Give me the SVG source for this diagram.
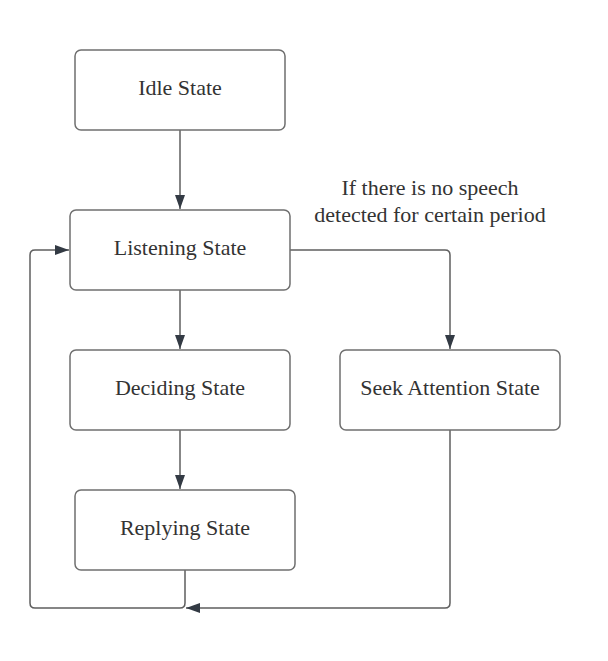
<svg xmlns="http://www.w3.org/2000/svg" width="608" height="661" viewBox="0 0 608 661">
<style>
.box{fill:#fff;stroke:#6f6f6f;stroke-width:1.5}
.lbl{font-family:"Liberation Serif",serif;font-size:22px;fill:#333;text-anchor:middle;dominant-baseline:central}
.edge{fill:none;stroke:#5f5f5f;stroke-width:1.5}
</style>
<defs>
<marker id="arr" viewBox="0 0 14 10" refX="14" refY="5" markerWidth="14" markerHeight="10" markerUnits="userSpaceOnUse" orient="auto">
<path d="M0,0 L14,5 L0,10 Z" fill="#333a44"/>
</marker>
</defs>
<rect width="608" height="661" fill="#fff"/>
<g id="connectors">
<path class="edge" d="M180,130 V209" marker-end="url(#arr)"/>
<path class="edge" d="M180,290 V349" marker-end="url(#arr)"/>
<path class="edge" d="M180,430 V489" marker-end="url(#arr)"/>
<path class="edge" d="M290,250 H445 Q450,250 450,255 V349" marker-end="url(#arr)"/>
<path class="edge" d="M450,430 V603 Q450,608 445,608 H186" marker-end="url(#arr)"/>
<path class="edge" d="M185,570 V603 Q185,608 180,608 H35 Q30,608 30,603 V255 Q30,250 35,250 H69" marker-end="url(#arr)"/>
<text class="lbl" x="430" y="187">If there is no speech</text>
<text class="lbl" x="430" y="214">detected for certain period</text>
</g>
<g id="idle"><rect class="box" x="75" y="50" width="210" height="80" rx="6"/><text class="lbl" x="180" y="87">Idle State</text></g>
<g id="listening"><rect class="box" x="70" y="210" width="220" height="80" rx="6"/><text class="lbl" x="180" y="247">Listening State</text></g>
<g id="deciding"><rect class="box" x="70" y="350" width="220" height="80" rx="6"/><text class="lbl" x="180" y="387">Deciding State</text></g>
<g id="seek"><rect class="box" x="340" y="350" width="220" height="80" rx="6"/><text class="lbl" x="450" y="387">Seek Attention State</text></g>
<g id="replying"><rect class="box" x="75" y="490" width="220" height="80" rx="6"/><text class="lbl" x="185" y="527">Replying State</text></g>
</svg>
